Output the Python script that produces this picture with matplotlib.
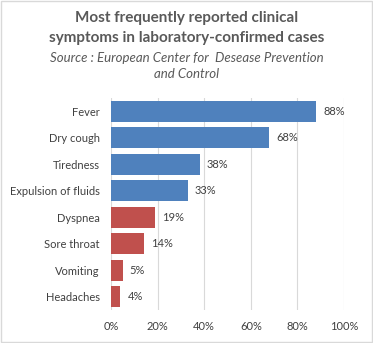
import matplotlib.pyplot as plt
from matplotlib.patches import Rectangle
from matplotlib.ticker import PercentFormatter

plt.rcParams['font.family'] = ['Lato', 'DejaVu Sans']

symptoms = ['Fever', 'Dry cough', 'Tiredness', 'Expulsion of fluids',
            'Dyspnea', 'Sore throat', 'Vomiting', 'Headaches']
share = [88, 68, 38, 33, 19, 14, 5, 4]
groups = ['common'] * 4 + ['rare'] * 4
group_colors = {'common': '#4F81BD', 'rare': '#C0504D'}

text_col = '#404040'
title_col = '#595959'
grid_col = '#D9D9D9'

fig = plt.figure(figsize=(3.73, 3.43), dpi=100)
ax = fig.add_axes([0.2976, 0.0962, 0.6247, 0.6181])

ypos = list(range(len(symptoms)))
ax.barh(ypos, share, height=0.8, color=[group_colors[g] for g in groups], zorder=2)
for y, v in zip(ypos, share):
    ax.text(v + 3, y, f'{v}%', va='center', ha='left', fontsize=8, color=text_col)

ax.set_yticks(ypos)
ax.set_yticklabels(symptoms)
ax.set_ylim(len(symptoms) - 0.5, -0.5)
ax.set_xlim(0, 100)
ax.set_xticks(range(0, 101, 20))
ax.xaxis.set_major_formatter(PercentFormatter(decimals=0))
ax.grid(axis='x', color=grid_col, linewidth=0.8, zorder=0)
ax.tick_params(length=0, labelsize=8, colors=text_col)
ax.tick_params(axis='y', pad=8)
ax.tick_params(axis='x', pad=8)
for s in ax.spines.values():
    s.set_visible(False)

fig.text(0.5, 0.918, 'Most frequently reported clinical\nsymptoms in laboratory-confirmed cases',
         ha='center', va='center', fontsize=11, fontweight='bold', color=title_col,
         linespacing=1.55)
fig.text(0.5, 0.807, 'Source : European Center for  Desease Prevention\nand Control',
         ha='center', va='center', fontsize=9.5, style='italic', color=title_col,
         linespacing=1.4)

fig.patches.append(Rectangle((0.002, 0.002), 0.996, 0.996, transform=fig.transFigure,
                             fill=False, edgecolor=grid_col, linewidth=1))

fig.savefig('out.png', dpi=100)
